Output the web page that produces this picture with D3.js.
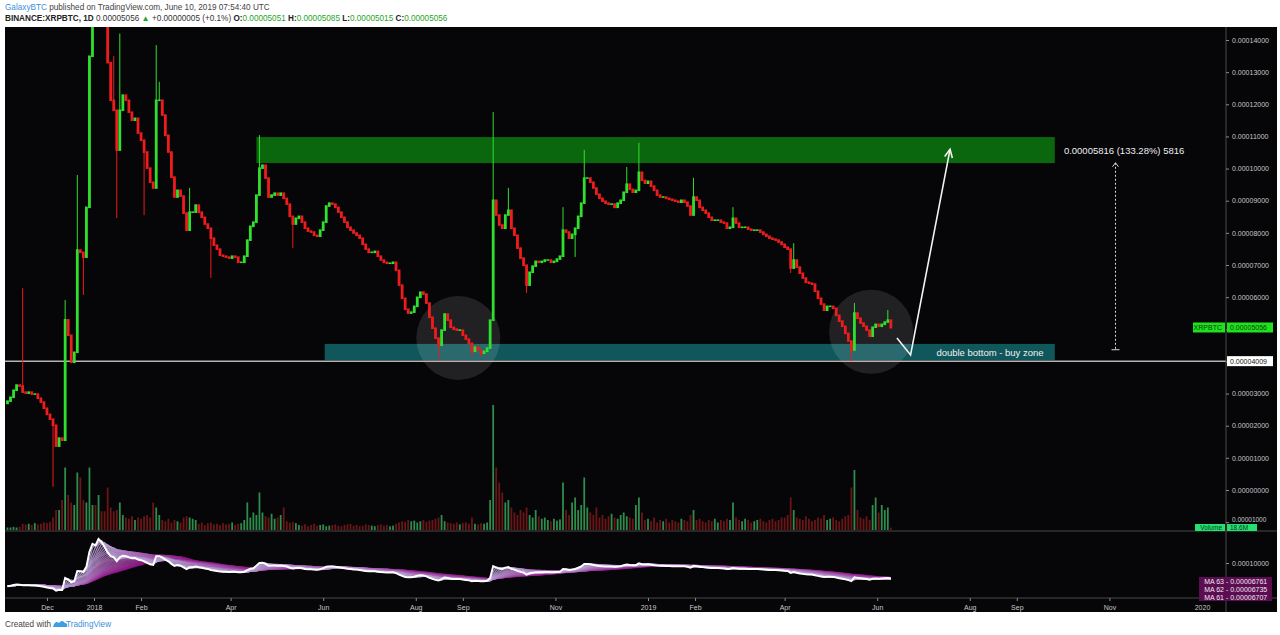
<!DOCTYPE html>
<html><head><meta charset="utf-8">
<script src="https://cdn.jsdelivr.net/npm/d3@7"></script>
<style>
html,body{margin:0;padding:0;background:#fff;}
svg{display:block;font-family:"Liberation Sans",Arial,sans-serif;}
</style></head><body>
<svg id="c" width="1280" height="635"></svg>
<script>
// ---------------- DATA (prices in satoshi = 1e-8 BTC) ----------------
const startDate = "2017-11-04";   // first 2-day candle
const periodDays = 2;
const closes = [
2770,2890,3110,3270,3240,3050,3020,3050,2990,2990,
2860,2740,2550,2360,2210,2020,1370,1620,1555,5300,
4820,3980,4290,7470,7400,7250,8800,13500,16000,15500,
17500,16500,15000,13300,12130,11820,10580,11820,12290,12130,
11760,11510,11570,11110,10890,10520,10020,9580,9400,12130,
12130,11670,11040,10520,9740,9120,9330,9150,8620,8090,
8650,8650,8870,8650,8490,8280,8150,7840,7620,7500,
7310,7280,7250,7220,7280,7250,7090,7090,7280,7780,
8210,8340,9180,10020,10110,9710,9120,9180,9240,9180,
9240,9080,8900,8520,8280,8460,8520,8340,8150,8060,
8030,7930,7900,8090,8340,8840,8930,8900,8800,8650,
8490,8340,8180,8090,8000,7930,7840,7650,7500,7400,
7400,7430,7280,7160,7090,7060,7060,7090,6840,6380,
5970,5630,5510,5540,5720,6000,6160,6100,5820,5380,
5040,4730,4510,4980,5480,5290,5070,5010,4980,4980,
4820,4700,4570,4320,4450,4360,4260,4320,4420,5290,
9020,8560,8250,8150,8560,8710,8150,7930,7530,7220,
7000,6380,6780,6970,7120,7090,7120,7160,7160,7090,
7120,7190,7280,8090,8030,7840,7960,8150,8520,8930,
9710,9710,9580,9400,9210,9080,8990,8930,8900,8900,
8800,8930,9020,9270,9520,9360,9270,9330,9890,9640,
9550,9610,9460,9330,9180,9120,9120,9080,9050,9020,
8990,8960,9020,8960,8840,8560,9120,9020,8800,8710,
8620,8490,8400,8400,8400,8340,8310,8150,8180,8460,
8310,8180,8180,8180,8120,8090,8090,8090,8030,7960,
7900,7840,7810,7780,7720,7650,7560,7500,6910,7160,
6940,6750,6600,6470,6440,6410,6190,5970,5790,5600,
5720,5720,5660,5440,5260,5100,4880,4640,4360,5510,
5350,5200,5100,4980,4790,5070,5160,5100,5160,5230,
5290,5056];
const firstOpen = 2700;
// volume in millions
const volumes = [
20,20,25,20,25,50,45,50,40,55,
45,50,60,55,65,100,160,160,240,500,
280,220,200,460,420,240,220,500,200,200,
280,150,150,340,180,150,160,220,120,100,
90,110,80,100,90,110,120,100,220,180,
120,80,70,90,60,80,70,60,100,110,
100,90,80,50,60,40,55,60,45,50,
40,55,45,50,60,40,50,55,80,220,
100,140,120,300,140,110,100,130,90,100,
120,180,70,60,65,55,40,35,45,30,
40,50,35,40,45,30,35,40,45,35,
30,40,45,50,35,40,30,35,45,40,
35,30,40,45,35,40,30,35,50,60,
70,65,80,70,75,60,70,80,65,75,
80,90,100,120,70,60,55,50,60,45,
55,60,50,100,50,45,55,50,60,240,
1000,500,380,300,220,240,180,140,120,160,
140,180,120,100,160,110,90,100,80,70,
90,75,85,380,160,120,220,260,160,200,
420,180,140,120,180,100,120,90,110,130,
100,90,120,140,110,100,90,200,260,140,
80,90,70,100,60,80,70,90,60,80,
70,60,90,80,70,120,160,80,90,70,
60,80,70,90,60,80,70,90,80,220,
100,80,70,90,80,60,70,80,90,70,
60,80,90,70,80,100,100,120,260,160,
100,90,80,110,90,70,80,100,90,120,
80,90,100,80,70,90,110,120,340,480,
160,100,90,110,80,200,260,140,200,160,
180,18.6];
// notable wicks: [candle index, price]
const wickHighs = [[5,6280],[19,5910],[23,9800],[35,13500],[37,14200],[49,13840],[50,12700],[60,9400],
  [83,11040],[160,11760],[165,9400],[183,8800],[190,10580],[204,10050],[208,10800],[226,9710],
  [239,8800],[259,7680],[279,5820],[290,5600]];
const wickLows = [[15,100],[25,6070],[36,8460],[45,8550],[67,6600],[94,7530],[142,4060],[153,4140],
  [156,4150],[171,6130],[187,7250],[258,6750],[278,4009]];

const priceTicks = [14000,13000,12000,11000,10000,9000,8000,7000,6000,5000,4000,3000,2000,1000,0,-1000];
const timeTickDates = ["2017-12-01","2018-01-01","2018-02-01","2018-04-01","2018-06-01","2018-08-01","2018-09-01","2018-11-01",
  "2019-01-01","2019-02-01","2019-04-01","2019-06-01","2019-08-01","2019-09-01","2019-11-01","2020-01-01"];
const timeTickLabels = ["Dec","2018","Feb","Apr","Jun","Aug","Sep","Nov","2019","Feb","Apr","Jun","Aug","Sep","Nov","2020"];
const indTicks = [10000];
const maLengths = [2,3,4,5,6,7,8,9,10,11,12,13,14,15,16,17,18,19,20,21,22,23,24,25,26,27,28,29,30,31]; // in 2-day candles
const maLabels = [["MA 63","0.00006761"],["MA 62","0.00006735"],["MA 61","0.00006707"]];
const lastPrice = 5056, supportPrice = 4009, lastVolumeLabel = "18.6M";
const resistanceZone = {from:"2018-04-18", to:"2019-09-26", top:10980, bottom:10170};
const buyZone = {from:"2018-06-02", to:"2019-09-26", top:4545, bottom:4040};
const circles = [{date:"2018-08-29", price:4730}, {date:"2019-05-28", price:4920}];
const arrowPath = [["2019-06-14",4730],["2019-06-23",4200],["2019-07-19",10600]];
const measure = {date:"2019-11-05", from:4364, to:10180, text:"0.00005816 (133.28%) 5816", textDate:"2019-10-02"};
const zoneText = {date:"2019-07-10", text:"double bottom - buy zone"};

// ---------------- LAYOUT ----------------
const svg = d3.select("#c");
const L = 5, R = 1226, T = 27, B = 612, MAIN_B = 531, IND_B = 598, RIGHT = 1277;
const fmt = v => (v/1e8).toFixed(8);
const DAY = 86400000;
const t0 = Date.parse(startDate + "T00:00:00Z");

const x = d3.scaleUtc().domain([new Date(Date.UTC(2018,0,1)), new Date(Date.UTC(2019,0,1))]).range([94, 648]);
const y = d3.scaleLinear().domain([0, 14000]).range([490, 40]);
const yVol = d3.scaleLinear().domain([0, 1000]).range([530, 405]);
const yInd = d3.scaleLinear().domain([0, 10000]).range([595, 563]);
const D = s => new Date(s + "T00:00:00Z");

// background
svg.append("rect").attr("x",L).attr("y",T).attr("width",RIGHT-L).attr("height",B-T).attr("fill","#060507");

const defs = svg.append("defs");
defs.append("clipPath").attr("id","mainClip").append("rect").attr("x",L).attr("y",T).attr("width",R-L).attr("height",MAIN_B-T);
defs.append("clipPath").attr("id","indClip").append("rect").attr("x",L).attr("y",MAIN_B+1).attr("width",R-L).attr("height",IND_B-MAIN_B-1);

// candles data
const hiMap = new Map(wickHighs), loMap = new Map(wickLows);
const candles = closes.map((c,i) => {
  const o = i===0 ? firstOpen : closes[i-1];
  let h = Math.max(o,c), l = Math.min(o,c);
  if (hiMap.has(i)) h = Math.max(h, hiMap.get(i));
  if (loMap.has(i)) l = Math.min(l, loMap.get(i));
  return {i, date:new Date(t0 + (i*periodDays + periodDays/2)*DAY), o, c, h, l, v:volumes[i], up:c>=o};
});

const main = svg.append("g").attr("clip-path","url(#mainClip)");

// resistance zone
main.append("rect").attr("x",x(D(resistanceZone.from))).attr("y",y(resistanceZone.top))
  .attr("width",x(D(resistanceZone.to))-x(D(resistanceZone.from))).attr("height",y(resistanceZone.bottom)-y(resistanceZone.top))
  .attr("fill","#0b670d");
// buy zone
main.append("rect").attr("x",x(D(buyZone.from))).attr("y",y(buyZone.top))
  .attr("width",x(D(buyZone.to))-x(D(buyZone.from))).attr("height",y(buyZone.bottom)-y(buyZone.top))
  .attr("fill","#10575c");
// circles
main.selectAll("circle.hl").data(circles).join("circle").attr("class","hl")
  .attr("cx",d=>x(D(d.date))).attr("cy",d=>y(d.price)).attr("r",42)
  .attr("fill","rgba(255,255,255,0.11)");

// volume
main.selectAll("rect.vol").data(candles).join("rect").attr("class","vol")
  .attr("x",d=>x(d.date)-0.9).attr("width",1.8)
  .attr("y",d=>yVol(d.v)).attr("height",d=>yVol(0)-yVol(d.v))
  .attr("fill",d=>d.up ? "rgba(60,185,100,0.75)" : "rgba(150,30,30,0.7)");

// support line
main.append("line").attr("x1",L).attr("x2",R).attr("y1",y(supportPrice)).attr("y2",y(supportPrice))
  .attr("stroke","#b4b4b4").attr("stroke-width",1.5);

// candles
const GREEN = "#2fe02f", RED = "#ee1c1c";
main.selectAll("line.wick").data(candles).join("line").attr("class","wick")
  .attr("x1",d=>x(d.date)).attr("x2",d=>x(d.date)).attr("y1",d=>y(d.h)).attr("y2",d=>y(d.l))
  .attr("stroke",d=>d.up?GREEN:RED).attr("stroke-width",1);
main.selectAll("rect.body").data(candles).join("rect").attr("class","body")
  .attr("x",d=>x(d.date)-1.4).attr("width",2.8)
  .attr("y",d=>y(Math.max(d.o,d.c))-0.6).attr("height",d=>Math.abs(y(d.o)-y(d.c))+1.6)
  .attr("fill",d=>d.up?GREEN:RED);

// arrow
const ap = arrowPath.map(p=>[x(D(p[0])), y(p[1])]);
main.append("path").attr("d",d3.line()(ap)).attr("fill","none").attr("stroke","#f2f2f2").attr("stroke-width",1.6);
{
  const [x1,y1] = ap[1], [x2,y2] = ap[2];
  const ang = Math.atan2(y2-y1, x2-x1), len = 9;
  const a1 = [x2 - len*Math.cos(ang-0.45), y2 - len*Math.sin(ang-0.45)];
  const a2 = [x2 - len*Math.cos(ang+0.45), y2 - len*Math.sin(ang+0.45)];
  main.append("path").attr("d",d3.line()([a1,[x2,y2],a2])).attr("fill","none").attr("stroke","#f2f2f2").attr("stroke-width",1.6);
}
// measure line
{
  const mx = x(D(measure.date));
  main.append("line").attr("x1",mx).attr("x2",mx).attr("y1",y(measure.to)).attr("y2",y(measure.from))
    .attr("stroke","#d8d8d8").attr("stroke-width",1).attr("stroke-dasharray","2,2");
  main.append("path").attr("d",d3.line()([[mx-3,y(measure.to)+4],[mx,y(measure.to)],[mx+3,y(measure.to)+4]]))
    .attr("fill","none").attr("stroke","#d8d8d8").attr("stroke-width",1);
  main.append("line").attr("x1",mx-4).attr("x2",mx+4).attr("y1",y(measure.from)).attr("y2",y(measure.from))
    .attr("stroke","#d8d8d8").attr("stroke-width",1);
  main.append("text").attr("x",x(D(measure.textDate))).attr("y",y(measure.to)-9).attr("fill","#eeeeee")
    .attr("font-size",9.5).text(measure.text);
}
main.append("text").attr("x",x(D(zoneText.date))).attr("y",(y(buyZone.top)+y(buyZone.bottom))/2+3.5)
  .attr("fill","#f0f0f0").attr("font-size",9.5).text(zoneText.text);

// ---------------- indicator pane ----------------
const ind = svg.append("g").attr("clip-path","url(#indClip)");
const sma = (arr,n) => arr.map((_,i)=>d3.mean(arr.slice(Math.max(0,i-n+1), i+1)));
const col = d3.interpolateRgb("#b9a6d6", "#8c1384");
const line = d3.line().x((d,i)=>x(candles[i].date)).y(d=>yInd(d));
maLengths.slice().reverse().forEach((n) => {
  const t = (n - maLengths[0])/(maLengths[maLengths.length-1]-maLengths[0]);
  ind.append("path").attr("d",line(sma(closes,n))).attr("fill","none")
    .attr("stroke",col(t)).attr("stroke-width",1.4).attr("opacity",0.85);
});
ind.append("path").attr("d",line(closes)).attr("fill","none").attr("stroke","#ffffff").attr("stroke-width",2);

// ---------------- separators & axes ----------------
svg.append("line").attr("x1",L).attr("x2",RIGHT).attr("y1",MAIN_B).attr("y2",MAIN_B).attr("stroke","#4a4a4a");
svg.append("line").attr("x1",L).attr("x2",RIGHT).attr("y1",IND_B).attr("y2",IND_B).attr("stroke","#4a4a4a");
svg.append("line").attr("x1",R).attr("x2",R).attr("y1",T).attr("y2",B).attr("stroke","#4a4a4a");

const styleAxis = g => {
  g.select(".domain").remove();
  g.selectAll(".tick line").attr("stroke","#8a8a8a");
  g.selectAll(".tick text").attr("fill","#c8c8c8").attr("font-size",7).attr("font-family","Liberation Sans, Arial, sans-serif");
};
const yAxis = d3.axisRight(y).tickValues(priceTicks).tickSize(3).tickPadding(3)
  .tickFormat(v => fmt(Math.abs(v)));
const yAxisG = svg.append("g").attr("transform",`translate(${R},0)`).call(yAxis).call(styleAxis);
// the lowest (negative) label sits just above the volume box, as in the reference
yAxisG.selectAll(".tick").filter(d=>d<0).select("text").attr("dy","-0.05em").attr("font-size",6.5);
const indAxis = d3.axisRight(yInd).tickValues(indTicks).tickSize(3).tickPadding(3).tickFormat(fmt);
svg.append("g").attr("transform",`translate(${R},0)`).call(indAxis).call(styleAxis);
const xAxis = d3.axisBottom(x).tickValues(timeTickDates.map(D)).tickSize(3).tickPadding(4)
  .tickFormat((d,i)=>timeTickLabels[i]);
svg.append("g").attr("transform",`translate(0,${IND_B})`).call(xAxis).call(styleAxis);

// label boxes
function box(x0, yc, w, h, fill, txt, tcol, anchor, fs) {
  svg.append("rect").attr("x",x0).attr("y",yc-h/2).attr("width",w).attr("height",h).attr("fill",fill);
  svg.append("text").attr("x", anchor==="end" ? x0+w-3 : x0+3).attr("y",yc+2.4).attr("font-size",fs||7)
    .attr("text-anchor",anchor||"start").attr("fill",tcol).text(txt);
}
box(1193, y(lastPrice), 32, 10, "#1fe21f", "XRPBTC", "#0b3b0b", "end");
box(R+1, y(lastPrice), 46, 10, "#1fe21f", fmt(lastPrice), "#0b3b0b");
box(R+1, y(supportPrice), 46, 10, "#ffffff", fmt(supportPrice), "#111111");
box(1195, 527.5, 30, 7, "#24e070", "Volume", "#0b3b1b", "end", 6.5);
box(R+1, 527.5, 30, 7, "#24e070", lastVolumeLabel, "#0b3b1b", "start", 6.5);
maLabels.forEach((m,k) => {
  const yc = 581 + k*8;
  svg.append("rect").attr("x",1199).attr("y",yc-4).attr("width",RIGHT-1204).attr("height",8).attr("fill","#5b0d52");
  svg.append("text").attr("x",1224).attr("y",yc+2.5).attr("font-size",7).attr("text-anchor","end").attr("fill","#f2e6f0").text(m[0]);
  svg.append("text").attr("x",1226).attr("y",yc+2.5).attr("font-size",7).attr("fill","#f2e6f0").text(" -  " + m[1]);
});

// ---------------- header & footer ----------------
const h1 = svg.append("text").attr("x",5).attr("y",10).attr("font-size",8.2);
h1.append("tspan").attr("fill","#3d8fd8").text("GalaxyBTC");
h1.append("tspan").attr("fill","#444").text(" published on TradingView.com, June 10, 2019 07:54:40 UTC");
const h2 = svg.append("text").attr("x",5).attr("y",21).attr("font-size",8.2);
h2.append("tspan").attr("fill","#222").attr("font-weight","bold").text("BINANCE:XRPBTC, 1D");
h2.append("tspan").attr("fill","#333").text(" 0.00005056 ");
h2.append("tspan").attr("fill","#1fa51f").text("▲");
h2.append("tspan").attr("fill","#333").text(" +0.00000005 (+0.1%) ");
[["O:","0.00005051"],["H:","0.00005085"],["L:","0.00005015"],["C:","0.00005056"]].forEach(([k,v]) => {
  h2.append("tspan").attr("fill","#222").attr("font-weight","bold").text(k);
  h2.append("tspan").attr("fill","#1fa51f").text(v + " ");
});
svg.append("text").attr("x",5).attr("y",627).attr("font-size",8.2).attr("fill","#444").text("Created with");
svg.append("path").attr("d","M53,627 q2,-7 6,-4 q3,-4 6,0 q3,0 2,4 z").attr("fill","#3d9fe0");
svg.append("text").attr("x",66).attr("y",627).attr("font-size",8.2).attr("fill","#3d8fd8").text("TradingView");
</script>
</body></html>
